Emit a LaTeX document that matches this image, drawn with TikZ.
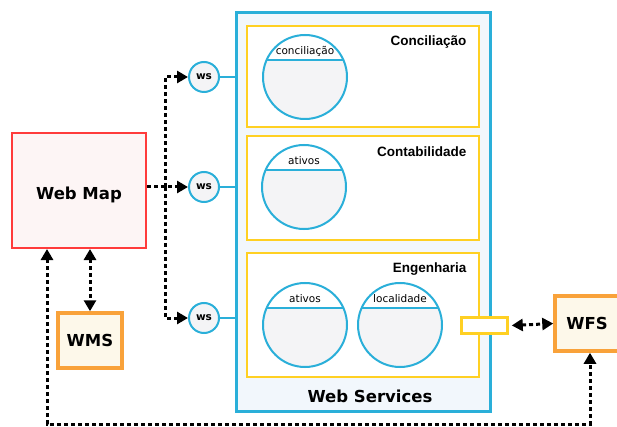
\documentclass[tikz,border=0pt]{standalone}
\usepackage{fontspec}
\setmainfont{DejaVu Sans}
\newfontfamily\arialb[BoldFont={Liberation Sans Bold}]{Liberation Sans}
\usetikzlibrary{arrows.meta,calc}
\definecolor{wsblue}{HTML}{2AAFD9}
\definecolor{wsbg}{HTML}{F2F7FC}
\definecolor{ylw}{HTML}{FFD023}
\definecolor{wmred}{HTML}{FF3B3B}
\definecolor{wmbg}{HTML}{FDF5F5}
\definecolor{orng}{HTML}{F9A23A}
\definecolor{orbg}{HTML}{FDF8EA}
\definecolor{dbg}{HTML}{F4F4F6}
\tikzset{
  bigtxt/.style={font=\fontsize{16.5}{18}\selectfont\bfseries},
  secbox/.style={draw=ylw,line width=2.5pt,fill=white},
  sectxt/.style={font=\arialb\fontsize{13.5}{15}\selectfont\bfseries,anchor=north east},
  wsnode/.style={circle,draw=wsblue,line width=2pt,fill=dbg,minimum size=30pt,inner sep=0pt,font=\fontsize{10.5}{11}\selectfont\bfseries},
  dbc/.style={circle,draw=wsblue,line width=2pt,minimum size=84pt,inner sep=0pt},
  dbtxt/.style={font=\fontsize{10.5}{11}\selectfont},
  tipa/.tip={Triangle[length=11pt,width=12pt]},
  conn/.style={line width=3pt,dash pattern=on 4pt off 3pt,-tipa},
  connb/.style={line width=3pt,dash pattern=on 4pt off 3pt,tipa-tipa},
}
\newcommand\dbcirc[4]{%
  \fill[dbg] (#2,#3) circle (42);
  \begin{scope}
    \clip (#2,#3) circle (42);
    \fill[white] ($(#2,#3)+(-45,-45)$) rectangle ($(#2,#3)+(45,-17)$);
  \end{scope}
  \draw[wsblue,line width=2pt] ($(#2,#3)+(-38.4,-17)$) -- ($(#2,#3)+(38.4,-17)$);
  \node[dbc] (#1) at (#2,#3) {};
  \node[dbtxt] at ($(#2,#3)+(0,-26)$) {#4};
}
\begin{document}
\begin{tikzpicture}[x=1pt,y=-1pt]
\useasboundingbox (0,0) rectangle (617,427);
% Web Services container
\node[draw=wsblue,fill=wsbg,line width=3pt,minimum width=254pt,minimum height=398pt,inner sep=0pt] (wsbox) at (363,212) {};
\node[bigtxt] (wstitle) at (370,396) {Web Services};
% sections
\node[secbox,minimum width=232pt,minimum height=101pt,inner sep=0pt] (sec1) at (363,76.5) {};
\node[sectxt] (sec1t) at (470,32) {Conciliação};
\node[secbox,minimum width=232pt,minimum height=104pt,inner sep=0pt] (sec2) at (363,188) {};
\node[sectxt] (sec2t) at (470,143) {Contabilidade};
\node[secbox,minimum width=232pt,minimum height=124pt,inner sep=0pt] (sec3) at (363,315) {};
\node[sectxt] (sec3t) at (470,259) {Engenharia};
% tables
\dbcirc{t1}{305}{77}{conciliação}
\dbcirc{t2}{304}{187}{ativos}
\dbcirc{t3}{305}{325}{ativos}
\dbcirc{t4}{400}{325}{localidade}
% port
\node[draw=ylw,fill=white,line width=2.5pt,minimum width=46pt,minimum height=16pt,inner sep=0pt] (port) at (484.5,325.5) {};
% ws circles
\node[wsnode] (ws1) at (204,77) {ws};
\node[wsnode] (ws2) at (204,187) {ws};
\node[wsnode] (ws3) at (204,318) {ws};
\draw[wsblue,line width=2pt] (ws1.east) -- (ws1.east -| wsbox.west);
\draw[wsblue,line width=2pt] (ws2.east) -- (ws2.east -| wsbox.west);
\draw[wsblue,line width=2pt] (ws3.east) -- (ws3.east -| wsbox.west);
% boxes
\node[draw=wmred,fill=wmbg,line width=2pt,minimum width=134pt,minimum height=115pt,inner sep=0pt] (wm) at (79,190.5) {};
\node[bigtxt] (wmt) at (79,195) {Web Map};
\node[draw=orng,fill=orbg,line width=3.5pt,minimum width=64pt,minimum height=55pt,inner sep=0pt,bigtxt] (wms) at (90,340.5) {WMS};
\node[draw=orng,fill=orbg,line width=3.5pt,minimum width=64pt,minimum height=55pt,inner sep=0pt,bigtxt] (wfs) at (587,323.5) {WFS};
% connectors
\coordinate (jn) at (165,187);
\draw[conn] (wm.east |- ws2) -- (ws2.west);
\draw[conn] (jn) |- (ws1.west);
\draw[conn] (jn) |- (ws3.west);
\draw[connb] (wm.south -| wms.north) -- (wms.north);
\draw[connb] ([xshift=3pt]port.east) -- (wfs.west);
\coordinate (bl) at (47,424);
\coordinate (br) at (590,424);
\draw[connb] (wm.south -| bl) -- (bl) -- (br) -- (wfs.south -| br);
\end{tikzpicture}
\end{document}
